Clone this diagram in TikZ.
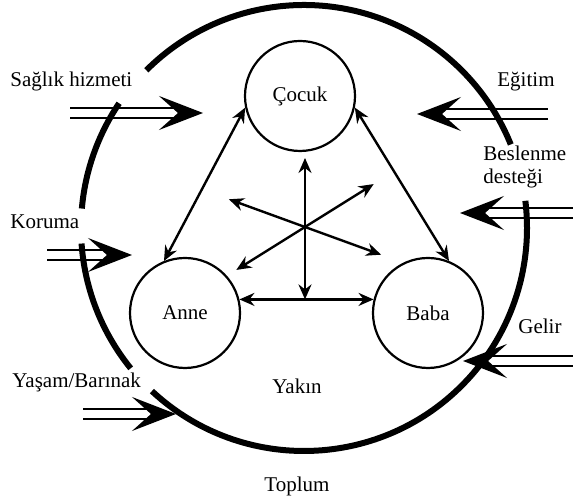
\documentclass[tikz,border=0pt]{standalone}
\usepackage{fontspec}
\setmainfont{Liberation Serif}
\usetikzlibrary{arrows.meta,calc,positioning}

\begin{document}
\begin{tikzpicture}[x=0.5pt,y=0.5pt,>={Stealth[length=7.5pt,width=6.5pt,inset=2.5pt]},
    font=\fontsize{10.5}{12.6}\selectfont,
    member/.style={draw,circle,line width=1.1pt,minimum size=55pt,inner sep=0pt},
    link/.style={<->,line width=1.2pt},
    ring/.style={line width=3pt},
    inshaft/.style={double,double distance=4pt,line width=0.8pt},
    inhead/.style={-{Stealth[length=22pt,width=17pt,inset=9.5pt]},line width=0.8pt},
    tag/.style={inner sep=0pt,anchor=base west}]
  \useasboundingbox (0,0) rectangle (573,501);
  % family
  \node[member] (cocuk) at (300,405) {Çocuk};
  \node[member] (anne) at (185,188) {Anne};
  \node[member] (baba) at (428,188) {Baba};
  \draw[link] (anne.112) -- (cocuk.192);
  \draw[link] (baba.68) -- (cocuk.-12);
  \draw[link] (anne.14) -- (baba.166);
  % star in the middle
  \coordinate (hub) at (305,274);
  \foreach \a/\r [count=\k] in {160/81,-20/81,212/81,32/81,90/69}
    \coordinate (s\k) at ($(hub)+(\a:\r)$);
  \draw[link] (s1) -- (s2);
  \draw[link] (s3) -- (s4);
  \draw[link] (s5) -- (hub |- anne.14);
  % support coming in
  \foreach \sx/\tx/\yy [count=\i] in {70/203/388,47/132/246,83/176/87,548/417/387,573/460/288,573/463/140}{
    \coordinate (in\i) at (\sx,\yy);
    \coordinate (tip\i) at (\tx,\yy);
    \coordinate (notch\i) at ($(tip\i)!12.5pt!(in\i)$);
    \draw[inshaft] (in\i) -- (notch\i);
    \draw[inhead] (notch\i) -- (tip\i);
  }
  % society ring
  \coordinate (mid) at (304,273);
  \foreach \a/\b in {22/135,146/175,184/219,227/367}
    \draw[ring] (mid) ++(\a:223) arc[start angle=\a,end angle=\b,radius=223];
  % labels
  \node[tag] (saglik) at (10,414) {Sağlık hizmeti};
  \node[tag] (koruma) at (10,272) {Koruma};
  \node[tag] (yasam) at (12,113) {Yaşam/Barınak};
  \node[tag] (egitim) at (497,414) {Eğitim};
  \node[tag] (beslenme) at (483,340) {Beslenme};
  \node[tag] (destegi) at (483,317) {desteği};
  \node[tag] (gelir) at (518,167) {Gelir};
  \node[tag,anchor=base] (yakin) at (297,107) {Yakın};
  \node[tag,anchor=base] (toplum) at (297,9) {Toplum};
\end{tikzpicture}
\end{document}
